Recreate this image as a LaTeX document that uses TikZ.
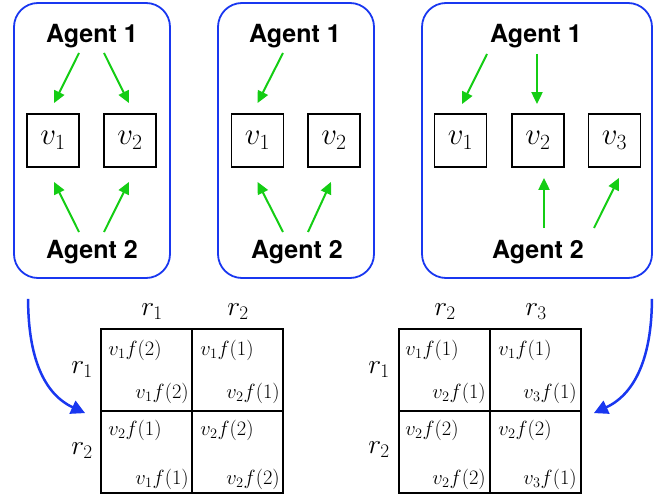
\RequirePackage{fix-cm}
\documentclass[tikz,border=0pt]{standalone}
\usepackage{fontspec}
\newfontfamily\agentfont{TeX Gyre Heros}
\usetikzlibrary{arrows.meta}
\definecolor{pblue}{RGB}{25,55,240}
\definecolor{agreen}{RGB}{20,205,20}
\begin{document}
\begin{tikzpicture}[x=1pt,y=-1pt,
 panel/.style={draw=pblue, line width=1.8pt, rounded corners=24pt, minimum height=275pt, inner sep=0pt},
 agent/.style={font=\agentfont\bfseries\fontsize{25}{28}\selectfont, anchor=base, inner sep=0pt},
 vbox/.style={draw, line width=1.8pt, minimum width=52pt, minimum height=53pt, inner sep=0pt, font=\fontsize{31}{34}\selectfont},
 garrow/.style={draw=agreen, line width=2pt, -{Triangle[length=12pt,width=11pt]}},
 barrow/.style={draw=pblue, line width=2.5pt, -{Triangle[length=14pt,width=14pt]}},
 cell/.style={draw, line width=1.8pt, minimum width=91pt, minimum height=82pt, inner sep=0pt},
 ctext/.style={font=\fontsize{20.5}{23}\selectfont, inner sep=0pt},
 rlab/.style={font=\fontsize{27.5}{30}\selectfont, inner sep=0pt}]
\useasboundingbox (0,0) rectangle (672,500);

% panels
\node[panel, minimum width=156pt] (P1) at (92,140.5) {};
\node[panel, minimum width=156pt] (P2) at (296,140.5) {};
\node[panel, minimum width=230pt] (P3) at (537,140.5) {};

% panel 1
\node[agent] (a11) at (92,43) {Agent 1};
\node[agent] (a21) at (92,258) {Agent 2};
\node[vbox] (v11) at (53,140.5) {$v_1$};
\node[vbox] (v12) at (130,140.5) {$v_2$};
\draw[garrow] ([xshift=-13pt,yshift=-10pt]a11.base) -- ([xshift=1pt,yshift=10pt]v11.north);
\draw[garrow] ([xshift=12pt,yshift=-10pt]a11.base) -- ([xshift=-1pt,yshift=10pt]v12.north);
\draw[garrow] ([xshift=-13pt,yshift=26pt]a21.base) -- ([xshift=1pt,yshift=-14pt]v11.south);
\draw[garrow] ([xshift=12pt,yshift=26pt]a21.base) -- ([xshift=-1pt,yshift=-14pt]v12.south);

% panel 2
\node[agent] (a12) at (295,43) {Agent 1};
\node[agent] (a22) at (297,258) {Agent 2};
\node[vbox] (v21) at (257.5,140.5) {$v_1$};
\node[vbox] (v22) at (334,140.5) {$v_2$};
\draw[garrow] ([xshift=-12pt,yshift=-10pt]a12.base) -- ([yshift=10pt]v21.north);
\draw[garrow] ([xshift=-14pt,yshift=26pt]a22.base) -- ([yshift=-14pt]v21.south);
\draw[garrow] ([xshift=11pt,yshift=26pt]a22.base) -- ([xshift=-3pt,yshift=-14pt]v22.south);

% panel 3
\node[agent] (a13) at (536,43) {Agent 1};
\node[agent] (a23) at (538,258) {Agent 2};
\node[vbox] (v31) at (460.5,140.5) {$v_1$};
\node[vbox] (v32) at (538,140.5) {$v_2$};
\node[vbox] (v33) at (614.5,140.5) {$v_3$};
\draw[garrow] ([xshift=-49pt,yshift=-11pt]a13.base) -- ([xshift=1.5pt,yshift=9pt]v31.north);
\draw[garrow] ([xshift=1pt,yshift=-11pt]a13.base) -- ([xshift=-1pt,yshift=9pt]v32.north);
\draw[garrow] ([xshift=6pt,yshift=30pt]a23.base) -- ([xshift=6pt,yshift=-10pt]v32.south);
\draw[garrow] ([xshift=56pt,yshift=30pt]a23.base) -- ([xshift=4.5pt,yshift=-10pt]v33.south);

% left grid
\node[cell] (c11) at (146.5,370) {};
\node[cell] (c12) at (237.5,370) {};
\node[cell] (c21) at (146.5,452) {};
\node[cell] (c22) at (237.5,452) {};
\node[rlab] (lc1) at (152,312) {$r_1$};
\node[rlab] (lc2) at (238,312) {$r_2$};
\node[rlab] (lr1) at (82,370) {$r_1$};
\node[rlab] (lr2) at (82,451) {$r_2$};
\node[ctext, anchor=west] (c11t) at ([xshift=8pt,yshift=-22pt]c11.north west) {$v_1f(2)$};
\node[ctext, anchor=east] (c11b) at ([xshift=-4pt,yshift=19pt]c11.south east) {$v_1f(2)$};
\node[ctext, anchor=west] (c12t) at ([xshift=9pt,yshift=-22pt]c12.north west) {$v_1f(1)$};
\node[ctext, anchor=east] (c12b) at ([xshift=-4pt,yshift=19pt]c12.south east) {$v_2f(1)$};
\node[ctext, anchor=west] (c21t) at ([xshift=8pt,yshift=-20pt]c21.north west) {$v_2f(1)$};
\node[ctext, anchor=east] (c21b) at ([xshift=-4pt,yshift=15pt]c21.south east) {$v_1f(1)$};
\node[ctext, anchor=west] (c22t) at ([xshift=9pt,yshift=-20pt]c22.north west) {$v_2f(2)$};
\node[ctext, anchor=east] (c22b) at ([xshift=-4pt,yshift=15pt]c22.south east) {$v_2f(2)$};

% right grid
\node[cell] (d11) at (444.5,370) {};
\node[cell] (d12) at (535.5,370) {};
\node[cell] (d21) at (444.5,452) {};
\node[cell] (d22) at (535.5,452) {};
\node[rlab] (rc1) at (445,312) {$r_2$};
\node[rlab] (rc2) at (536,312) {$r_3$};
\node[rlab] (rr1) at (379,370) {$r_1$};
\node[rlab] (rr2) at (379,450) {$r_2$};
\node[ctext, anchor=west] (d11t) at ([xshift=7pt,yshift=-22pt]d11.north west) {$v_1f(1)$};
\node[ctext, anchor=east] (d11b) at ([xshift=-5pt,yshift=19pt]d11.south east) {$v_2f(1)$};
\node[ctext, anchor=west] (d12t) at ([xshift=9pt,yshift=-22pt]d12.north west) {$v_1f(1)$};
\node[ctext, anchor=east] (d12b) at ([xshift=-5pt,yshift=19pt]d12.south east) {$v_3f(1)$};
\node[ctext, anchor=west] (d21t) at ([xshift=7pt,yshift=-20pt]d21.north west) {$v_2f(2)$};
\node[ctext, anchor=east] (d21b) at ([xshift=-5pt,yshift=15pt]d21.south east) {$v_2f(2)$};
\node[ctext, anchor=west] (d22t) at ([xshift=9pt,yshift=-20pt]d22.north west) {$v_2f(2)$};
\node[ctext, anchor=east] (d22b) at ([xshift=-5pt,yshift=15pt]d22.south east) {$v_3f(1)$};

% blue arrows
\coordinate (s1) at ([xshift=15pt,yshift=-20pt]P1.south west);
\coordinate (e1) at ([xshift=-15pt,yshift=-3pt]c21.north west);
\coordinate (s2) at ([xshift=-1pt,yshift=-20pt]P3.south east);
\coordinate (e2) at ([xshift=12pt,yshift=-3pt]d22.north east);
\draw[barrow] (s1) to[out=-90,in=155] (e1);
\draw[barrow] (s2) to[out=-90,in=25] (e2);
\end{tikzpicture}
\end{document}
